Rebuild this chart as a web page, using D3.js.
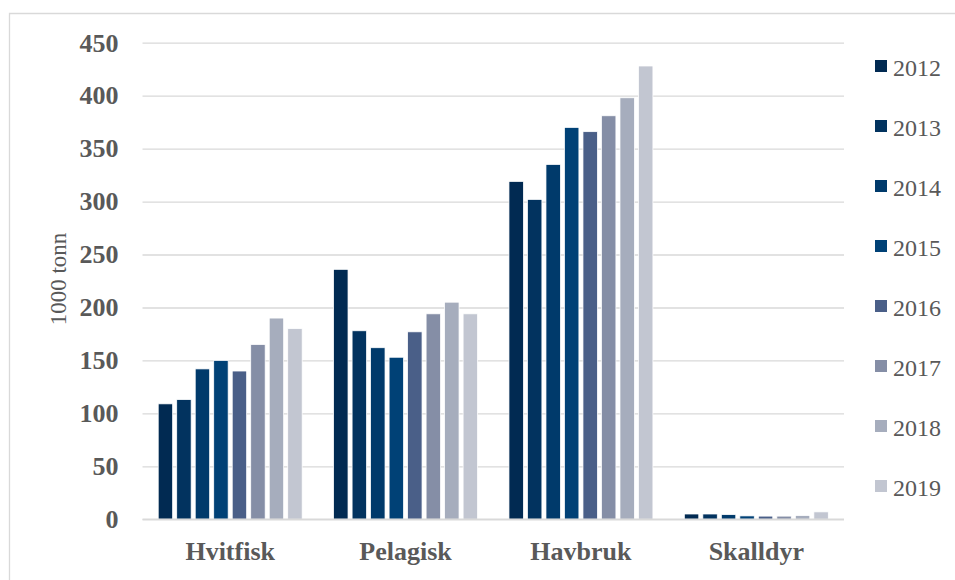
<!DOCTYPE html>
<html><head><meta charset="utf-8">
<script src="https://cdn.jsdelivr.net/npm/d3@7"></script>
<style>body{margin:0;background:#fff}svg{display:block}</style>
</head><body>
<svg id="c" width="955" height="580"></svg>
<script>
const categories = ["Hvitfisk","Pelagisk","Havbruk","Skalldyr"];
const years = ["2012","2013","2014","2015","2016","2017","2018","2019"];
const v2012 = [109, 236, 319, 5];
const v2013 = [113, 178, 302, 5];
const v2014 = [142, 162, 335, 4.4];
const v2015 = [150, 153, 370, 3.2];
const v2016 = [140, 177, 366, 3];
const v2017 = [165, 194, 381, 3];
const v2018 = [190, 205, 398, 3.5];
const v2019 = [180, 194, 428, 7];
const series = [v2012,v2013,v2014,v2015,v2016,v2017,v2018,v2019];
const colors = ["#012a52","#02335f","#003a6b","#004176","#4a5f88","#858ea6","#a6adbd","#c2c6d1"];
const yTicks = [0,50,100,150,200,250,300,350,400,450];

const svg = d3.select("#c");
const ser = "'Liberation Serif','Times New Roman',serif";
const grey = "#595959";

// border
svg.append("path").attr("d","M9.5,580 L9.5,13.5 L955,13.5").attr("fill","none").attr("stroke","#d9d9d9").attr("stroke-width",1.3);

const L = 142.5, R = 844, T = 42.7, B = 519.3;
const y = d3.scaleLinear().domain([0,450]).range([B,T]);
const x0 = d3.scaleBand().domain(categories).range([L,R]).paddingInner(0.156).paddingOuter(0.078);
const x1 = d3.scaleBand().domain(years).range([0,x0.bandwidth()]).paddingInner(0.22).paddingOuter(0.11);

// grid
const yAxis = d3.axisLeft(y).tickValues(yTicks).tickSize(-(R-L)).tickPadding(24);
const ga = svg.append("g").attr("transform",`translate(${L},0)`).call(yAxis);
ga.select(".domain").remove();
ga.selectAll(".tick line").attr("stroke","#d9d9d9").attr("stroke-width",1.3);
ga.selectAll(".tick text").attr("font-family",ser).attr("font-weight","bold").attr("font-size",26).attr("fill",grey);

// bars
const groups = svg.append("g").selectAll("g").data(categories).join("g")
  .attr("transform",d=>`translate(${x0(d)},0)`);
groups.selectAll("rect").data((c,ci)=>years.map((yr,si)=>({yr,v:series[si][ci],si}))).join("rect")
  .attr("x",d=>x1(d.yr)).attr("width",x1.bandwidth())
  .attr("y",d=>y(d.v)).attr("height",d=>B-y(d.v))
  .attr("fill",d=>colors[d.si]).attr("stroke","#fff").attr("stroke-width",0.75);

// baseline
svg.append("line").attr("x1",L).attr("x2",R).attr("y1",B).attr("y2",B).attr("stroke","#d9d9d9").attr("stroke-width",1.5);

// x axis labels
const xa = d3.axisBottom(x0).tickSize(0).tickPadding(22);
const gx = svg.append("g").attr("transform",`translate(0,${B})`).call(xa);
gx.select(".domain").remove();
gx.selectAll(".tick text").attr("font-family",ser).attr("font-weight","bold").attr("font-size",26).attr("fill",grey);

// y title
svg.append("text").attr("transform","translate(66,279) rotate(-90)").attr("text-anchor","middle")
  .attr("font-family",ser).attr("font-size",23).attr("fill",grey).text("1000 tonn");

// legend
const lg = svg.append("g").selectAll("g").data(years).join("g")
  .attr("transform",(d,i)=>`translate(875,${60+i*60})`);
lg.append("rect").attr("width",12).attr("height",12).attr("fill",(d,i)=>colors[i]);
lg.append("text").attr("x",18).attr("y",15.5).attr("font-family",ser).attr("font-size",24).attr("fill",grey).text(d=>d);
</script>
</body></html>
